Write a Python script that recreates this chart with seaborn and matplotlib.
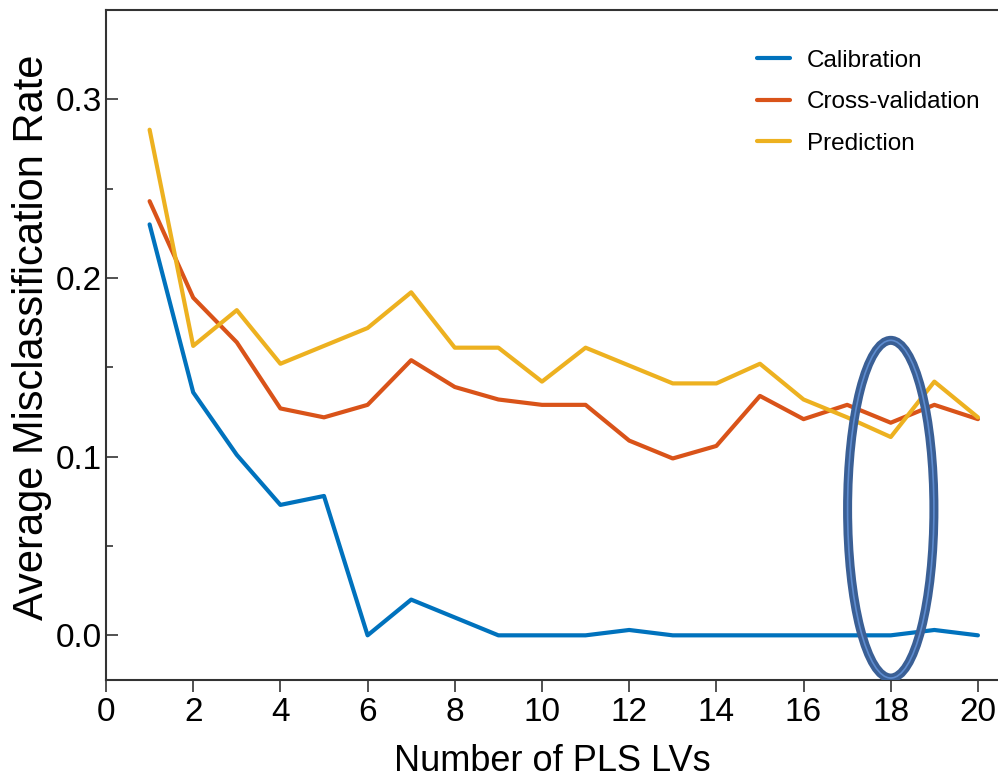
import numpy as np
import pandas as pd
import matplotlib
matplotlib.use("Agg")
import matplotlib.pyplot as plt
import seaborn as sns
from matplotlib.patches import Ellipse

lvs = list(range(1, 21))
calibration = [0.230, 0.136, 0.101, 0.073, 0.078, 0.000, 0.020, 0.010, 0.000, 0.000,
               0.000, 0.003, 0.000, 0.000, 0.000, 0.000, 0.000, 0.000, 0.003, 0.000]
cross_validation = [0.243, 0.189, 0.164, 0.127, 0.122, 0.129, 0.154, 0.139, 0.132, 0.129,
                    0.129, 0.109, 0.099, 0.106, 0.134, 0.121, 0.129, 0.119, 0.129, 0.121]
prediction = [0.283, 0.162, 0.182, 0.152, 0.162, 0.172, 0.192, 0.161, 0.161, 0.142,
              0.161, 0.151, 0.141, 0.141, 0.152, 0.132, 0.122, 0.111, 0.142, 0.122]
series_names = ["Calibration", "Cross-validation", "Prediction"]
colors = ["#0072BD", "#D95319", "#EDB120"]
xticks = [0, 2, 4, 6, 8, 10, 12, 14, 16, 18, 20]
yticks = [0.0, 0.1, 0.2, 0.3]

df = pd.DataFrame({
    "LV": lvs * 3,
    "rate": calibration + cross_validation + prediction,
    "series": [s for s in series_names for _ in lvs],
})

sns.set_style("ticks")
plt.rcParams["font.family"] = ["Liberation Sans", "DejaVu Sans"]
plt.rcParams["text.color"] = "black"
plt.rcParams["axes.labelcolor"] = "black"
plt.rcParams["xtick.labelcolor"] = "black"
plt.rcParams["ytick.labelcolor"] = "black"

fig = plt.figure(figsize=(9.98, 7.78), dpi=100)
ax = fig.add_axes([106 / 998, 1 - 680 / 778, 1 - 106 / 998, (680 - 10) / 778])

sns.lineplot(data=df, x="LV", y="rate", hue="series", hue_order=series_names,
             palette=colors, linewidth=3, ax=ax, legend=True)

# highlight ellipse at 18 LVs
ax.add_patch(Ellipse((18, 0.0706), 1.98, 0.189, fill=False, edgecolor="#3A5F95",
                     linewidth=6.5, zorder=5))
ax.add_patch(Ellipse((18, 0.0706), 1.98, 0.189, fill=False, edgecolor="#5E8CD0",
                     linewidth=1.2, zorder=6))

ax.set_xlim(0, 20.46)
ax.set_ylim(-0.025, 0.35)
ax.set_xticks(xticks)
ax.set_xticklabels([str(t) for t in xticks])
ax.set_yticks(yticks)
ax.set_yticklabels([f"{t:.1f}" for t in yticks])
ax.set_yticks([0.05, 0.15, 0.25], minor=True)
ax.tick_params(axis="x", which="major", labelsize=24, length=8.6, width=1.2,
               color="#333333", pad=3.5, direction="out")
ax.tick_params(axis="y", which="major", labelsize=24, length=8.6, width=1.2,
               color="#333333", pad=3, direction="in")
ax.tick_params(axis="y", which="minor", length=5, width=1.2, color="#333333",
               direction="in")
ax.set_xlabel("Number of PLS LVs", fontsize=26, labelpad=12, color="black")
ax.set_ylabel("Average Misclassification Rate", fontsize=30, color="black")
ax.yaxis.set_label_coords(-0.061, 0.512)

for side in ["left", "bottom", "top"]:
    ax.spines[side].set_color("#333333")
    ax.spines[side].set_linewidth(1.5)
ax.spines["right"].set_visible(False)

leg = ax.legend(loc="upper right", bbox_to_anchor=(1.005, 0.973), frameon=False,
                fontsize=17.5, handlelength=1.35, handletextpad=0.7, labelspacing=0.8)
for line in leg.get_lines():
    line.set_linewidth(3)
for t in leg.get_texts():
    t.set_color("black")

fig.savefig("out.png", dpi=100)
